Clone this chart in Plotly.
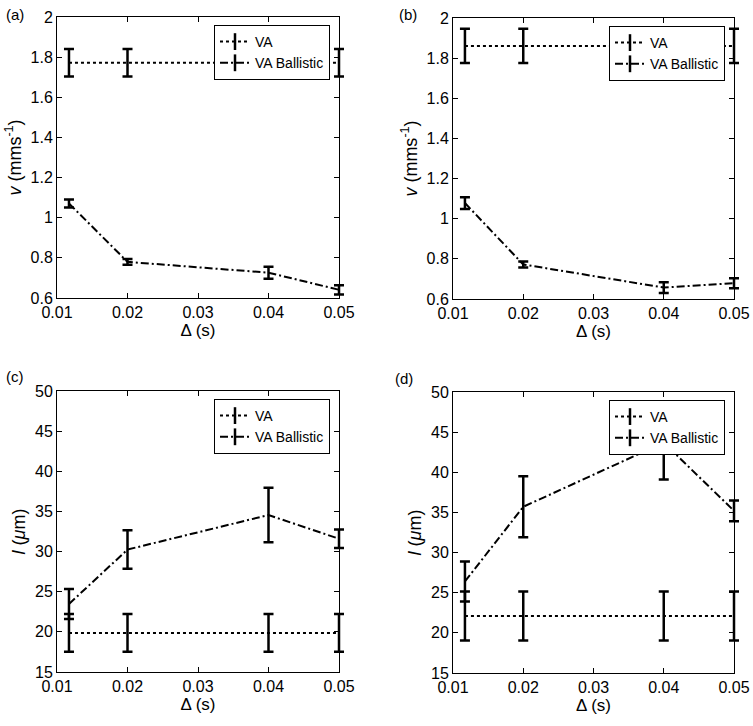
import plotly.graph_objects as go

# ---- data ----
delta = [0.0117, 0.02, 0.04, 0.05]

va_a = [1.772, 1.772, 1.772, 1.772]
va_a_err = [0.068, 0.068, 0.068, 0.068]
bal_a = [1.071, 0.780, 0.726, 0.641]
bal_a_err = [0.020, 0.014, 0.030, 0.023]

va_b = [1.861, 1.861, 1.861, 1.861]
va_b_err = [0.085, 0.085, 0.085, 0.085]
bal_b = [1.078, 0.772, 0.657, 0.679]
bal_b_err = [0.029, 0.015, 0.027, 0.025]

va_c = [19.87, 19.87, 19.87, 19.87]
va_c_err = [2.35, 2.35, 2.35, 2.35]
bal_c = [23.47, 30.25, 34.55, 31.6]
bal_c_err = [1.87, 2.4, 3.4, 1.15]

va_d = [22.1, 22.1, 22.1, 22.1]
va_d_err = [3.05, 3.05, 3.05, 3.05]
bal_d = [26.4, 35.7, 43.7, 35.2]
bal_d_err = [2.5, 3.8, 4.6, 1.3]

x_ticks = [0.01, 0.02, 0.03, 0.04, 0.05]
v_ticks = [0.6, 0.8, 1.0, 1.2, 1.4, 1.6, 1.8, 2.0]
l_ticks = [15, 20, 25, 30, 35, 40, 45, 50]
panel_labels = ["(a)", "(b)", "(c)", "(d)"]
series_names = ["VA", "VA Ballistic"]

FONT = "Arial, Liberation Sans, Helvetica, sans-serif"

panels = [
    (va_a, va_a_err, bal_a, bal_a_err),
    (va_b, va_b_err, bal_b, bal_b_err),
    (va_c, va_c_err, bal_c, bal_c_err),
    (va_d, va_d_err, bal_d, bal_d_err),
]

# layout geometry (pixels in a 753x726 canvas)
W, H = 753, 726
boxes = [
    (57, 339, 17, 298),
    (453, 734, 18, 299),
    (57, 339, 391, 672),
    (453, 734, 392, 673),
]
XR = [0.01, 0.05]
YR = [[0.6, 2.0], [0.6, 2.0], [15, 50], [15, 50]]
PAD = 12  # extra px so error bars at the axis edge are not clipped

VA_LINE = dict(color="black", width=2, dash="dot")
BAL_LINE = dict(color="black", width=2, dash="8px,3px,2px,3px")
ERR = dict(type="data", visible=True, color="black", thickness=2.5, width=5)

fig = go.Figure()

for i, (va, va_err, bal, bal_err) in enumerate(panels):
    n = i + 1
    xv = "x" if n == 1 else f"x{n}"
    yv = "y" if n == 1 else f"y{n}"
    xa, ya = f"x{n + 4}", f"y{n + 4}"
    lg = "legend" if n == 1 else f"legend{n}"
    # empty trace so the visible frame/axes of this panel get drawn
    fig.add_trace(go.Scatter(x=[], y=[], xaxis=xv, yaxis=yv,
                             showlegend=False, hoverinfo="skip"))
    # data
    fig.add_trace(go.Scatter(
        x=delta, y=va, mode="lines", name=series_names[0], line=VA_LINE,
        error_y=dict(ERR, array=va_err), xaxis=xa, yaxis=ya, showlegend=False,
    ))
    fig.add_trace(go.Scatter(
        x=delta, y=bal, mode="lines", name=series_names[1], line=BAL_LINE,
        error_y=dict(ERR, array=bal_err), xaxis=xa, yaxis=ya, showlegend=False,
    ))
    # legend entries (line + error-bar glyph)
    for nm, ln in zip(series_names, [VA_LINE, BAL_LINE]):
        fig.add_trace(go.Scatter(
            x=[None], y=[None], mode="lines+markers", name=nm, line=ln,
            marker=dict(symbol="line-ns", size=12, color="black",
                        line=dict(color="black", width=2.5)),
            xaxis=xa, yaxis=ya, legend=lg, showlegend=True,
        ))

layout = dict(
    width=W, height=H,
    margin=dict(l=0, r=0, t=0, b=0, autoexpand=False),
    paper_bgcolor="white", plot_bgcolor="rgba(0,0,0,0)",
    font=dict(family=FONT, size=16, color="black"),
    showlegend=True,
)

for i, (x0, x1, y0, y1) in enumerate(boxes):
    n = i + 1
    xk = "xaxis" if n == 1 else f"xaxis{n}"
    yk = "yaxis" if n == 1 else f"yaxis{n}"
    ya_ref = "y" if n == 1 else f"y{n}"
    xa_ref = "x" if n == 1 else f"x{n}"
    is_v = n <= 2
    yr = YR[i]
    layout[xk] = dict(
        domain=[x0 / W, x1 / W], anchor=ya_ref, automargin=False,
        range=XR, tickvals=x_ticks,
        ticktext=[f"{t:.2f}" for t in x_ticks],
        ticks="inside", ticklen=5, tickcolor="black",
        showline=True, linecolor="black", linewidth=1, mirror="allticks",
        showgrid=False, zeroline=False,
        tickfont=dict(size=16),
        title=dict(text="Δ (s)", font=dict(size=17), standoff=3),
    )
    layout[yk] = dict(
        domain=[1 - y1 / H, 1 - y0 / H], anchor=xa_ref, automargin=False,
        range=yr,
        tickvals=v_ticks if is_v else l_ticks,
        ticktext=[f"{t:g}" for t in (v_ticks if is_v else l_ticks)],
        ticks="inside", ticklen=5, tickcolor="black",
        showline=True, linecolor="black", linewidth=1, mirror="allticks",
        showgrid=False, zeroline=False,
        tickfont=dict(size=16),
        title=dict(
            text="<i>v</i> (mms<sup>-1</sup>)" if is_v else "<i>l</i> (<i>μ</i>m)",
            font=dict(size=18), standoff=4),
    )
    # hidden data axes: same scale, slightly larger area so nothing is clipped
    sx = (XR[1] - XR[0]) / (x1 - x0)
    sy = (yr[1] - yr[0]) / (y1 - y0)
    layout[f"xaxis{n + 4}"] = dict(
        domain=[(x0 - PAD) / W, (x1 + PAD) / W], anchor=f"y{n + 4}",
        range=[XR[0] - PAD * sx, XR[1] + PAD * sx], automargin=False,
        visible=False, showgrid=False, zeroline=False,
    )
    layout[f"yaxis{n + 4}"] = dict(
        domain=[1 - (y1 + PAD) / H, 1 - (y0 - PAD) / H], anchor=f"x{n + 4}",
        range=[yr[0] - PAD * sy, yr[1] + PAD * sy], automargin=False,
        visible=False, showgrid=False, zeroline=False,
    )
    lk = "legend" if n == 1 else f"legend{n}"
    layout[lk] = dict(
        x=(x1 - 9) / W, y=1 - (y0 + 8) / H, xanchor="right", yanchor="top",
        xref="paper", yref="paper",
        bgcolor="white", bordercolor="black", borderwidth=1,
        font=dict(size=14), tracegroupgap=0, itemwidth=30,
    )

fig.update_layout(**layout)

label_pos = [(4, 4), (397, 4), (4, 366), (393, 368)]
for lab, (px, py) in zip(panel_labels, label_pos):
    fig.add_annotation(
        text=lab, x=px / W, y=1 - py / H, xref="paper", yref="paper",
        xanchor="left", yanchor="top", showarrow=False,
        font=dict(size=15, family=FONT),
    )

fig.write_html(
    "out.html",
    config={"displayModeBar": False},
    post_script="document.body.style.margin='0';document.body.style.overflow='hidden';",
)
